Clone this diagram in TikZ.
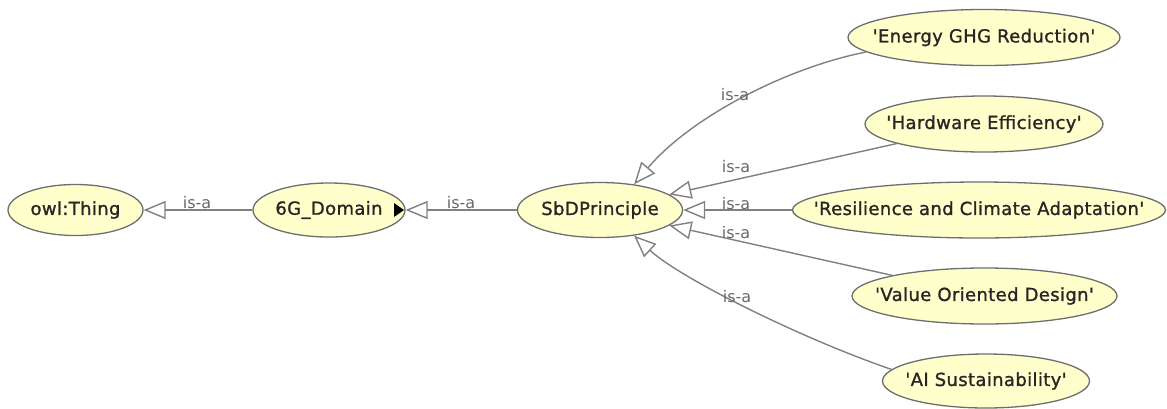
\documentclass[tikz,border=0pt]{standalone}
\usepackage{fontspec}
\usetikzlibrary{arrows.meta,shapes.geometric}
\newfontfamily\clsfont{DejaVu Sans}[FakeBold=1.2, LetterSpace=2]
\newfontfamily\relfont{DejaVu Sans}
\definecolor{clsfill}{RGB}{255,255,204}
\definecolor{clsline}{RGB}{110,110,110}
\definecolor{edgeline}{RGB}{128,128,128}
\definecolor{relcol}{RGB}{105,105,105}
% class name kept out of the ellipse size, which is set explicitly
\newcommand{\clsname}[1]{\makebox[0pt][c]{#1}}
\tikzset{
  cls/.style={ellipse, draw=clsline, line width=1.3pt, fill=clsfill, inner sep=0pt,
    font=\clsfont\fontsize{18}{20}\selectfont, text=black!85},
  isa/.style={draw=edgeline, line width=1.4pt,
    -{Triangle[open, length=22pt, width=18pt, fill=white]}},
  rel/.style={font=\relfont\fontsize{16}{17}\selectfont, text=relcol, inner sep=0pt}
}
\begin{document}
\begin{tikzpicture}[x=1pt,y=-1pt]
\useasboundingbox (0,0) rectangle (1167,408);

% classes
\node[cls, minimum width=135pt, minimum height=51pt] (owl) at (75.5,210) {\clsname{owl:Thing}};
\node[cls, minimum width=152pt, minimum height=54pt] (dom) at (329,210) {\clsname{6G\_Domain}};
\node[cls, minimum width=165pt, minimum height=55pt] (sbd) at (600,210) {\clsname{SbDPrinciple}};
\node[cls, minimum width=272pt, minimum height=56pt] (ener) at (984,37.5) {\clsname{'Energy GHG Reduction'}};
\node[cls, minimum width=238pt, minimum height=56pt] (hw) at (984,124) {\clsname{'Hardware Efficiency'}};
\node[cls, minimum width=373pt, minimum height=56pt] (res) at (979,210) {\clsname{'Resilience and Climate Adaptation'}};
\node[cls, minimum width=265pt, minimum height=56pt] (val) at (984.5,296) {\clsname{'Value Oriented Design'}};
\node[cls, minimum width=207pt, minimum height=54pt] (ai) at (986,381) {\clsname{'AI Sustainability'}};

% marker: class has hidden subclasses
\fill[black] (394,203) -- (404,210) -- (394,217) -- cycle;

% subclass edges
\draw[isa] (dom) -- (owl);
\draw[isa] (sbd) -- (dom);
\draw[isa] (ener.187) .. controls (785,68) and (690,118) .. (sbd.37);
\draw[isa] (hw) -- (sbd);
\draw[isa] (res) -- (sbd);
\draw[isa] (val) -- (sbd);
\draw[isa] (ai.173) .. controls (800,338) and (680,278) .. (sbd.-37);

% edge labels
\node[rel] (l1) at (197,203) {is-a};
\node[rel] (l2) at (461,203) {is-a};
\node[rel] (l3) at (735,95) {is-a};
\node[rel] (l4) at (736,167) {is-a};
\node[rel] (l5) at (736,204) {is-a};
\node[rel] (l6) at (736,233) {is-a};
\node[rel] (l7) at (737,297) {is-a};
\end{tikzpicture}
\end{document}
